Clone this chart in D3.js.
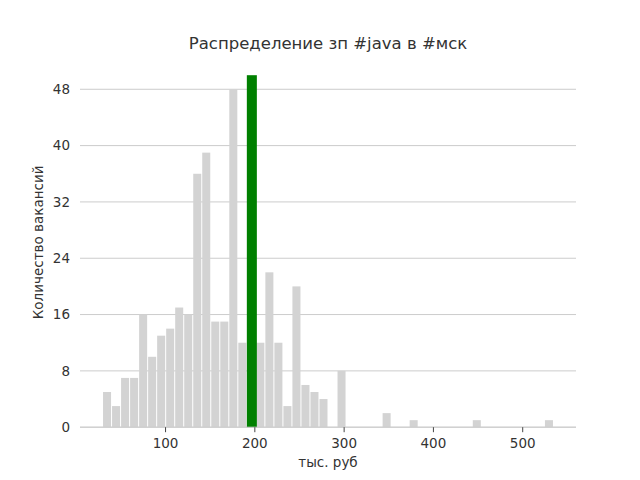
<!DOCTYPE html>
<html>
<head>
<meta charset="utf-8">
<script src="https://cdn.jsdelivr.net/npm/d3@7"></script>
<style>
body { margin: 0; background: #fff; }
text { font-family: "DejaVu Sans", sans-serif; fill: #333; }
</style>
</head>
<body>
<svg id="chart" width="640" height="480"></svg>
<script>
// Data
const binStart = 30;
const binWidth = 10.1;
const counts = [5, 3, 7, 7, 16, 10, 13, 14, 17, 16,
                36, 39, 15, 15, 48, 12, 50, 12, 22, 12,
                3, 20, 6, 5, 4, 0, 8, 0, 0, 0,
                0, 2, 0, 0, 1, 0, 0, 0, 0, 0,
                0, 1, 0, 0, 0, 0, 0, 0, 0, 1];
const highlightBin = 16;
const xTicks = [100, 200, 300, 400, 500];
const yTicks = [0, 8, 16, 24, 32, 40, 48];
const title = "Распределение зп #java в #мск";
const xLabel = "тыс. руб";
const yLabel = "Количество вакансий";

const svg = d3.select("#chart");
const pLeft = 80, pRight = 576, pTop = 57.6, pBottom = 427.2;

const bins = counts.map((c, i) => ({x0: binStart + i * binWidth, x1: binStart + (i + 1) * binWidth, c, i}));
const xmin = binStart, xmax = binStart + counts.length * binWidth;
const pad = (xmax - xmin) * 0.05;
const x = d3.scaleLinear().domain([xmin - pad, xmax + pad]).range([pLeft, pRight]);
const y = d3.scaleLinear().domain([0, d3.max(counts) * 1.05]).range([pBottom, pTop]);

// grid
svg.append("g").selectAll("line").data(yTicks).join("line")
  .attr("x1", pLeft).attr("x2", pRight)
  .attr("y1", d => y(d)).attr("y2", d => y(d))
  .attr("stroke", "#cccccc").attr("stroke-width", 1);

// bars
svg.append("g").selectAll("rect").data(bins.filter(b => b.c > 0 && b.i !== highlightBin)).join("rect")
  .attr("x", d => x(d.x0) + 0.5)
  .attr("width", d => x(d.x1) - x(d.x0) - 1)
  .attr("y", d => y(d.c))
  .attr("height", d => y(0) - y(d.c))
  .attr("fill", "#d3d3d3");

const hb = bins[highlightBin];
svg.append("rect")
  .attr("x", x(hb.x0))
  .attr("width", x(hb.x1) - x(hb.x0) + 1)
  .attr("y", y(hb.c))
  .attr("height", y(0) - y(hb.c))
  .attr("fill", "#008000");

// bottom spine
svg.append("line").attr("x1", pLeft).attr("x2", pRight).attr("y1", pBottom).attr("y2", pBottom)
  .attr("stroke", "#cccccc").attr("stroke-width", 1);

// x axis ticks
const xg = svg.append("g").attr("transform", `translate(0,${pBottom})`);
xg.call(d3.axisBottom(x).tickValues(xTicks).tickSize(5).tickPadding(6));
xg.select(".domain").remove();
xg.selectAll(".tick line").attr("stroke", "#444");
xg.selectAll(".tick text").attr("font-size", 13.5).attr("fill", "#333").style("font-family", "DejaVu Sans");

// y axis labels
const yg = svg.append("g").attr("transform", `translate(${pLeft},0)`);
yg.call(d3.axisLeft(y).tickValues(yTicks).tickSize(0).tickPadding(10));
yg.select(".domain").remove();
yg.selectAll(".tick text").attr("font-size", 13.5).attr("fill", "#333").style("font-family", "DejaVu Sans");

// title and labels
svg.append("text").attr("x", (pLeft + pRight) / 2).attr("y", 49)
  .attr("text-anchor", "middle").attr("font-size", 16.5).text(title);
svg.append("text").attr("x", (pLeft + pRight) / 2).attr("y", 467)
  .attr("text-anchor", "middle").attr("font-size", 13.5).text(xLabel);
svg.append("text").attr("transform", `translate(43,${(pTop + pBottom) / 2}) rotate(-90)`)
  .attr("text-anchor", "middle").attr("font-size", 13.5).text(yLabel);
</script>
</body>
</html>
